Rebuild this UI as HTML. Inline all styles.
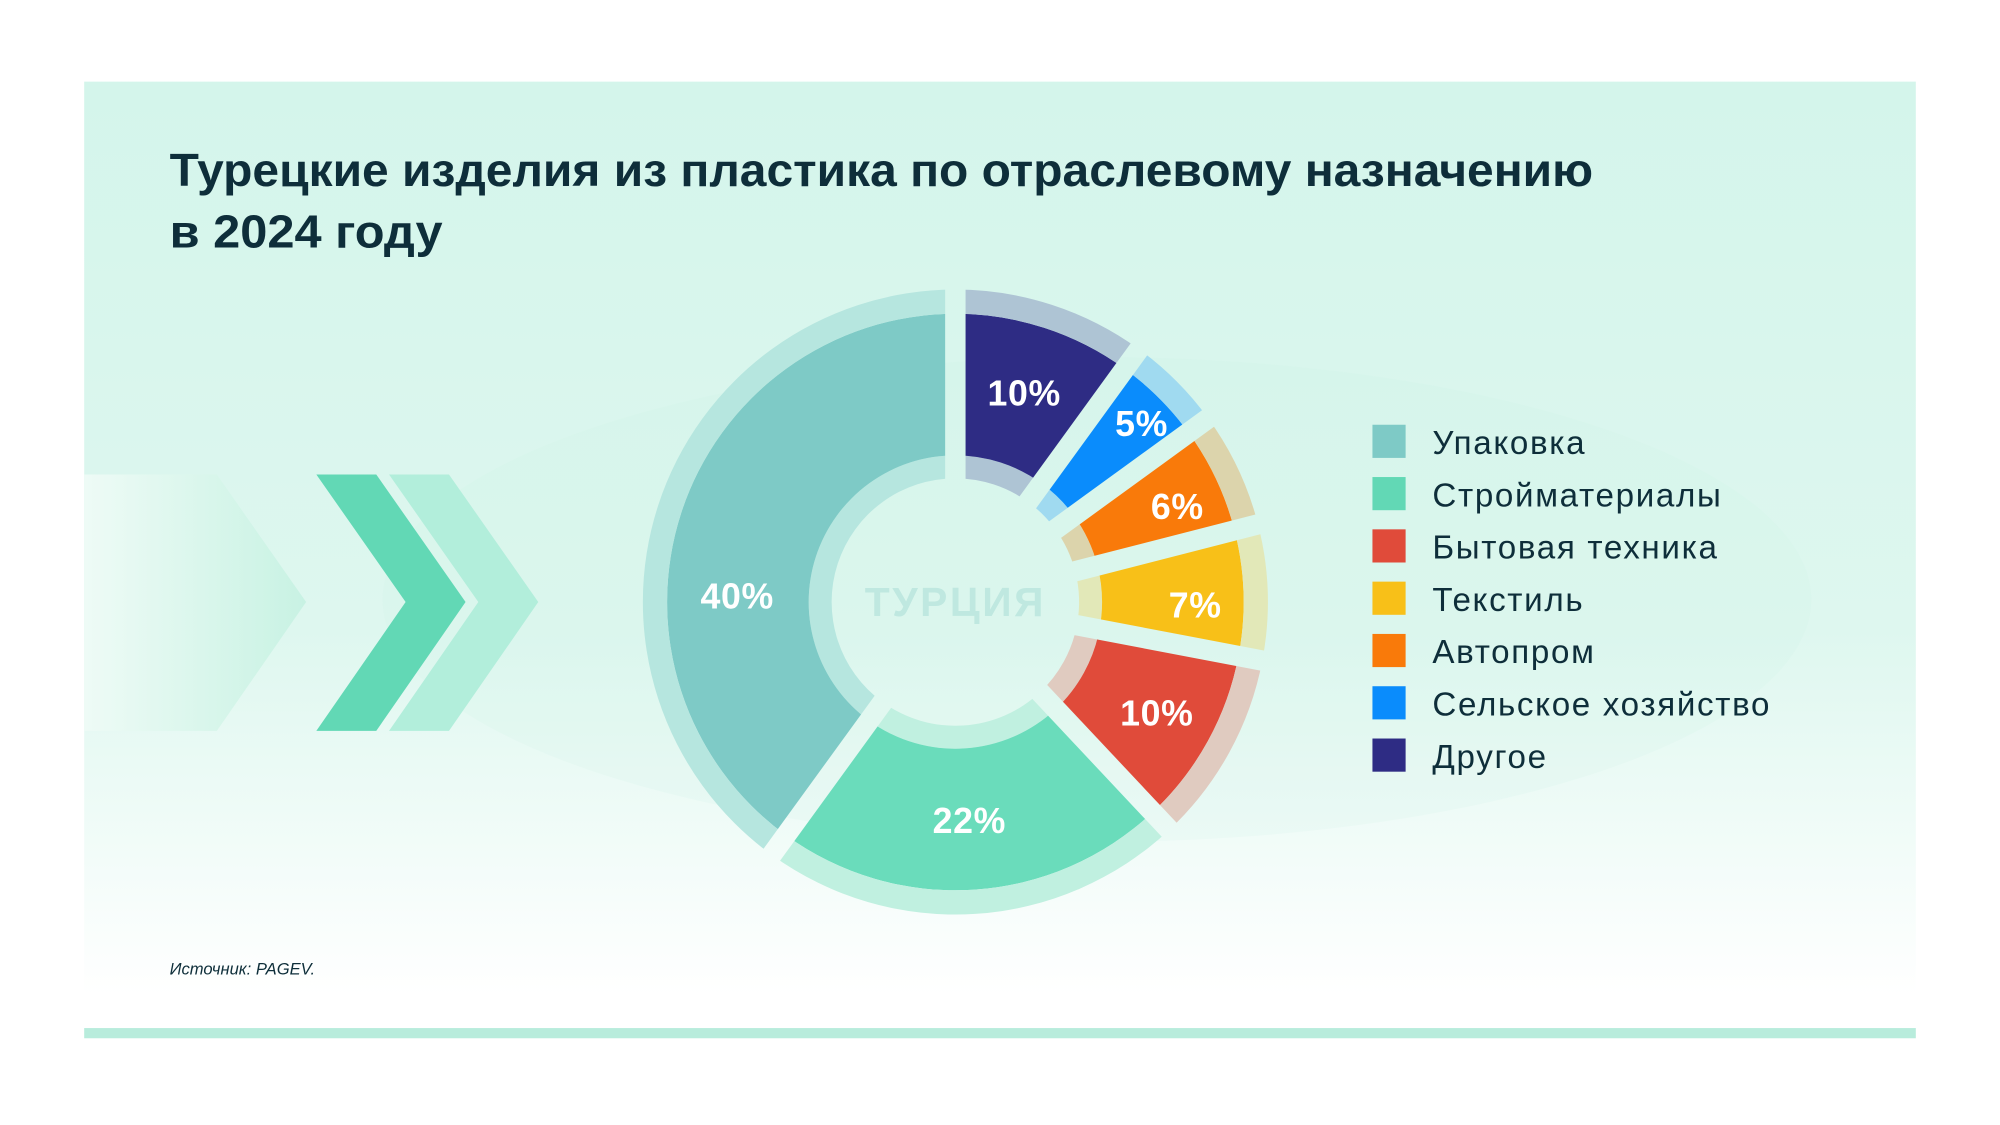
<!DOCTYPE html>
<html><head><meta charset="utf-8"><style>
html,body{margin:0;padding:0;background:#fff;}
svg{display:block;}
text{font-family:"Liberation Sans",sans-serif;}
</style></head><body>
<svg id="s" width="2000" height="1125" viewBox="0 0 1568 882" xmlns="http://www.w3.org/2000/svg">
<defs>
<linearGradient id="bg" x1="0" y1="0" x2="0" y2="1">
<stop offset="0" stop-color="#d4f5eb"/><stop offset="0.6" stop-color="#def7ef"/><stop offset="1" stop-color="#ffffff"/>
</linearGradient>
<linearGradient id="arr" x1="0" y1="0" x2="1" y2="0">
<stop offset="0" stop-color="#eefbf6"/><stop offset="1" stop-color="#c8f2e3"/>
</linearGradient>
<mask id="gm"><rect x="0" y="0" width="1568" height="882" fill="#fff"/><g id="gaps" stroke="#000" stroke-width="16"></g></mask>
</defs>
<rect x="0" y="0" width="1568" height="882" fill="#fff"/>
<rect x="66" y="64" width="1436" height="716" fill="url(#bg)"/>
<ellipse cx="860" cy="470" rx="560" ry="190" fill="#c8f0e2" opacity="0.15"/>
<rect x="66" y="806" width="1436" height="8" fill="#b8ecdc"/>
<text x="133" y="146" font-size="36" font-weight="bold" fill="#0e2e3a" textLength="1116" lengthAdjust="spacingAndGlyphs">Турецкие изделия из пластика по отраслевому назначению</text>
<text x="133" y="194" font-size="36" font-weight="bold" fill="#0e2e3a" textLength="214" lengthAdjust="spacingAndGlyphs">в 2024 году</text>
<text x="133" y="764" font-size="13" font-style="italic" fill="#0e2e3a">Источник: PAGEV.</text>
<polygon points="66,372 170,372 240,472 170,573 66,573" fill="url(#arr)"/>
<polygon points="248,372 295,372 365,472 295,573 248,573 318,472" fill="#62d8b5"/>
<polygon points="305,372 352,372 422,472 352,573 305,573 375,472" fill="#b2eedb"/>
<g id="pie" mask="url(#gm)"></g>
<text x="749" y="483" font-size="32" font-weight="bold" fill="#bfe8e0" text-anchor="middle" letter-spacing="2">ТУРЦИЯ</text>
<g font-size="28" font-weight="bold" fill="#fff" text-anchor="middle" letter-spacing="0.5">
<text x="803" y="318">10%</text><text x="895" y="342">5%</text><text x="923" y="407">6%</text>
<text x="937" y="484">7%</text><text x="907" y="569">10%</text><text x="760" y="653">22%</text><text x="578" y="477">40%</text>
</g>
<g font-size="26" fill="#0e2e3a" letter-spacing="1.3">
<rect x="1076" y="333" width="26" height="26" fill="#7ecac6"/><text x="1123" y="356">Упаковка</text>
<rect x="1076" y="374" width="26" height="26" fill="#62d8b5"/><text x="1123" y="397">Стройматериалы</text>
<rect x="1076" y="415" width="26" height="26" fill="#e04b3a"/><text x="1123" y="438">Бытовая техника</text>
<rect x="1076" y="456" width="26" height="26" fill="#f8c018"/><text x="1123" y="479">Текстиль</text>
<rect x="1076" y="497" width="26" height="26" fill="#f97a0a"/><text x="1123" y="520">Автопром</text>
<rect x="1076" y="538" width="26" height="26" fill="#0a8cfc"/><text x="1123" y="561">Сельское хозяйство</text>
<rect x="1076" y="579" width="26" height="26" fill="#2e2c84"/><text x="1123" y="602">Другое</text>
</g>
</svg>
<script>
var cx=749,cy=472;
var data=[[10,"#2e2c84","#aec4d4"],[5,"#0a8cfc","#a0daf0"],[6,"#f97a0a","#dcd4ac"],[7,"#f8c018","#e2e8b8"],[10,"#e04b3a","#e0cbc0"],[22,"#6adcbb","#c0f0e0"],[40,"#7ecac6","#b6e6df"]];
function pt(r,a){a=a*Math.PI/180;return [cx+r*Math.sin(a),cy-r*Math.cos(a)];}
function arc(r1,r2,a1,a2){var l=(a2-a1)>180?1:0;var p1=pt(r2,a1),p2=pt(r2,a2),p3=pt(r1,a2),p4=pt(r1,a1);
return "M"+p1+"A"+r2+","+r2+" 0 "+l+" 1 "+p2+"L"+p3+"A"+r1+","+r1+" 0 "+l+" 0 "+p4+"Z";}
var ns="http://www.w3.org/2000/svg",pie=document.getElementById("pie"),gaps=document.getElementById("gaps");
var a=0;
data.forEach(function(d){var b=a+d[0]*3.6;
[[97,115,d[2]],[115,226,d[1]],[226,245,d[2]]].forEach(function(r){var p=document.createElementNS(ns,"path");p.setAttribute("d",arc(r[0],r[1],a,b));p.setAttribute("fill",r[2]);pie.appendChild(p);});
var l=document.createElementNS(ns,"line");var e=pt(260,a);l.setAttribute("x1",cx);l.setAttribute("y1",cy);l.setAttribute("x2",e[0]);l.setAttribute("y2",e[1]);gaps.appendChild(l);
a=b;});
</script>
</body></html>
